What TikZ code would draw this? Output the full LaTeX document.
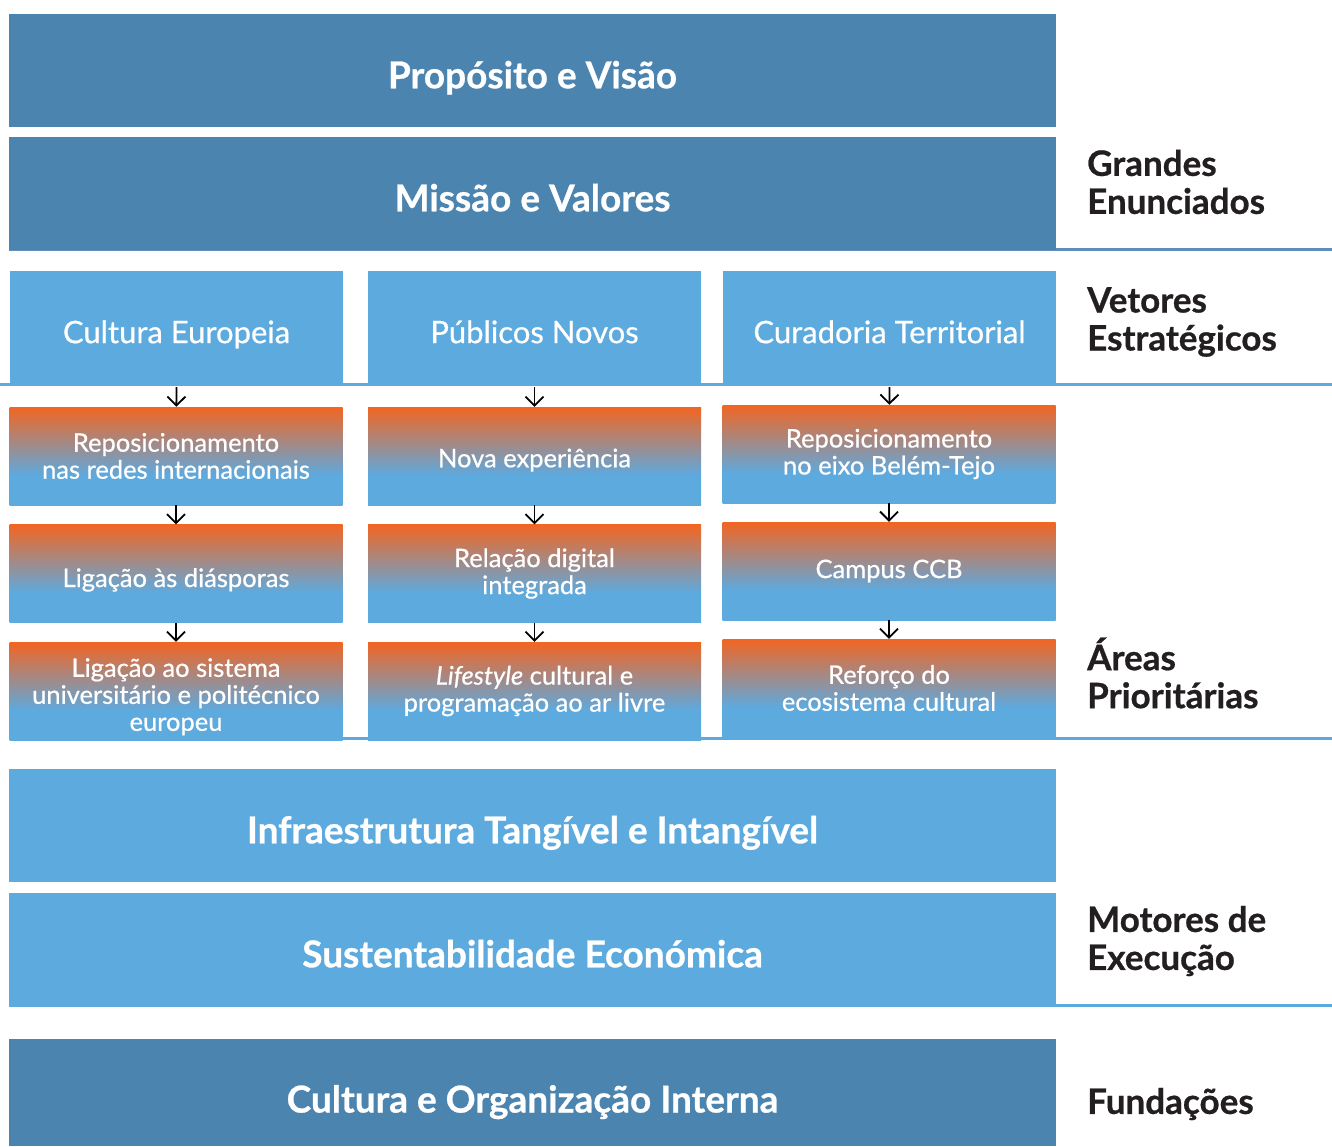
\documentclass[tikz,border=0pt]{standalone}
\usepackage{fontspec}
\setmainfont{Lato}
\newfontfamily\medfont{Lato}[FakeBold=0.6]
\newfontfamily\heavyfont{Lato}[BoldFeatures={FakeBold=0.7}]
\usetikzlibrary{calc,arrows.meta}
\definecolor{darkblue}{HTML}{4B84AF}
\definecolor{lightblue}{HTML}{5DAADF}
\definecolor{ruleblue}{HTML}{5C8FBC}
\definecolor{orng}{HTML}{F26522}
\definecolor{labelblack}{HTML}{231F20}
\pgfdeclareverticalshading{areafade}{100bp}{color(0bp)=(lightblue); color(40bp)=(lightblue);
  color(75bp)=(orng); color(100bp)=(orng)}
\tikzset{
  wide/.style={minimum width=1047pt,minimum height=113pt,inner sep=0pt,text=white,
    text height=35.6pt,text depth=0pt,font=\fontsize{37}{42}\heavyfont\bfseries},
  vector/.style={fill=lightblue,minimum width=333pt,minimum height=112pt,inner sep=0pt,
    text=white,text height=32.3pt,text depth=0pt,font=\fontsize{31}{36}\medfont},
  area/.style={shade,shading=areafade,minimum width=333pt,minimum height=98pt,inner sep=0pt,
    text=white,align=center,font=\fontsize{25.5}{27}\medfont},
  level/.style={anchor=west,align=left,inner sep=0pt,text=labelblack,
    font=\fontsize{35}{38}\heavyfont\bfseries},
  rule/.style={line width=3pt,lightblue},
  arr/.style={-{Straight Barb[length=9pt,width=18pt]},line width=1.8pt,black}
}
\begin{document}
\begin{tikzpicture}[x=1pt,y=-1pt]
\useasboundingbox (0,0) rectangle (1332,1146);
% rules behind the boxes
\draw[rule,ruleblue] (9,249.5) -- (1332,249.5);
\draw[rule] (0,384.5) -- (1332,384.5);
\draw[rule] (9,738.5) -- (1332,738.5);
\draw[rule] (9,1005) -- (1332,1005);
% grandes enunciados
\node[wide,fill=darkblue] (proposito) at (532.5,70.5) {Propósito e Visão};
\node[wide,fill=darkblue] (missao) at (532.5,193.5) {Missão e Valores};
% vetores
\node[vector] (europeia) at (176.5,327) {Cultura Europeia};
\node[vector] (publicos) at (534.5,327) {Públicos Novos};
\node[vector] (curadoria) at (889.5,327) {Curadoria Territorial};
% areas
\node[area] (redes) at (176,456) {Reposicionamento\\nas redes internacionais};
\node[area,text height=27pt,text depth=0pt] (diasporas) at (176,573.5) {Ligação às diásporas};
\node[area] (sistema) at (176,691) {\rule{0pt}{30pt}Ligação ao sistema\\universitário e politécnico\\europeu};
\node[area,text height=22.5pt,text depth=0pt] (experiencia) at (534.5,456) {Nova experiência};
\node[area] (digital) at (534.5,573.5) {Relação digital\\integrada};
\node[area] (lifestyle) at (534.5,691) {\textit{Lifestyle} cultural e\\programação ao ar livre};
\node[area] (eixo) at (889,454) {Reposicionamento\\no eixo Belém-Tejo};
\node[area] (campus) at (889,571) {Campus CCB};
\node[area] (ecossistema) at (889,688) {Reforço do\\ecosistema cultural};
% arrows
\draw[arr] ([yshift=-4pt]europeia.south) -- (redes);
\draw[arr] (redes) -- (diasporas);
\draw[arr] (diasporas) -- (sistema);
\draw[arr] ([yshift=-4pt]publicos.south) -- (experiencia);
\draw[arr] (experiencia) -- (digital);
\draw[arr] (digital) -- (lifestyle);
\draw[arr] ([yshift=-4pt]curadoria.south) -- (eixo);
\draw[arr] (eixo) -- (campus);
\draw[arr] (campus) -- (ecossistema);
% motores e fundacoes
\node[wide,fill=lightblue] (infra) at (532.5,825.5) {Infraestrutura Tangível e Intangível};
\node[wide,fill=lightblue] (sustent) at (532.5,949.5) {Sustentabilidade Económica};
\node[wide,fill=darkblue,minimum height=107pt,text height=40pt] (cultura) at (532.5,1092.5) {Cultura e Organização Interna};
% niveis
\node[level] (grandes) at (1087,182) {Grandes\\Enunciados};
\node[level] (vetores) at (1087,322) {Vetores\\Estratégicos};
\node[level] (areas) at (1087,673) {Áreas\\Prioritárias};
\node[level] (motores) at (1087,941) {Motores de\\Execução};
\node[level] (fundacoes) at (1087,1104) {Fundações};
\end{tikzpicture}
\end{document}
